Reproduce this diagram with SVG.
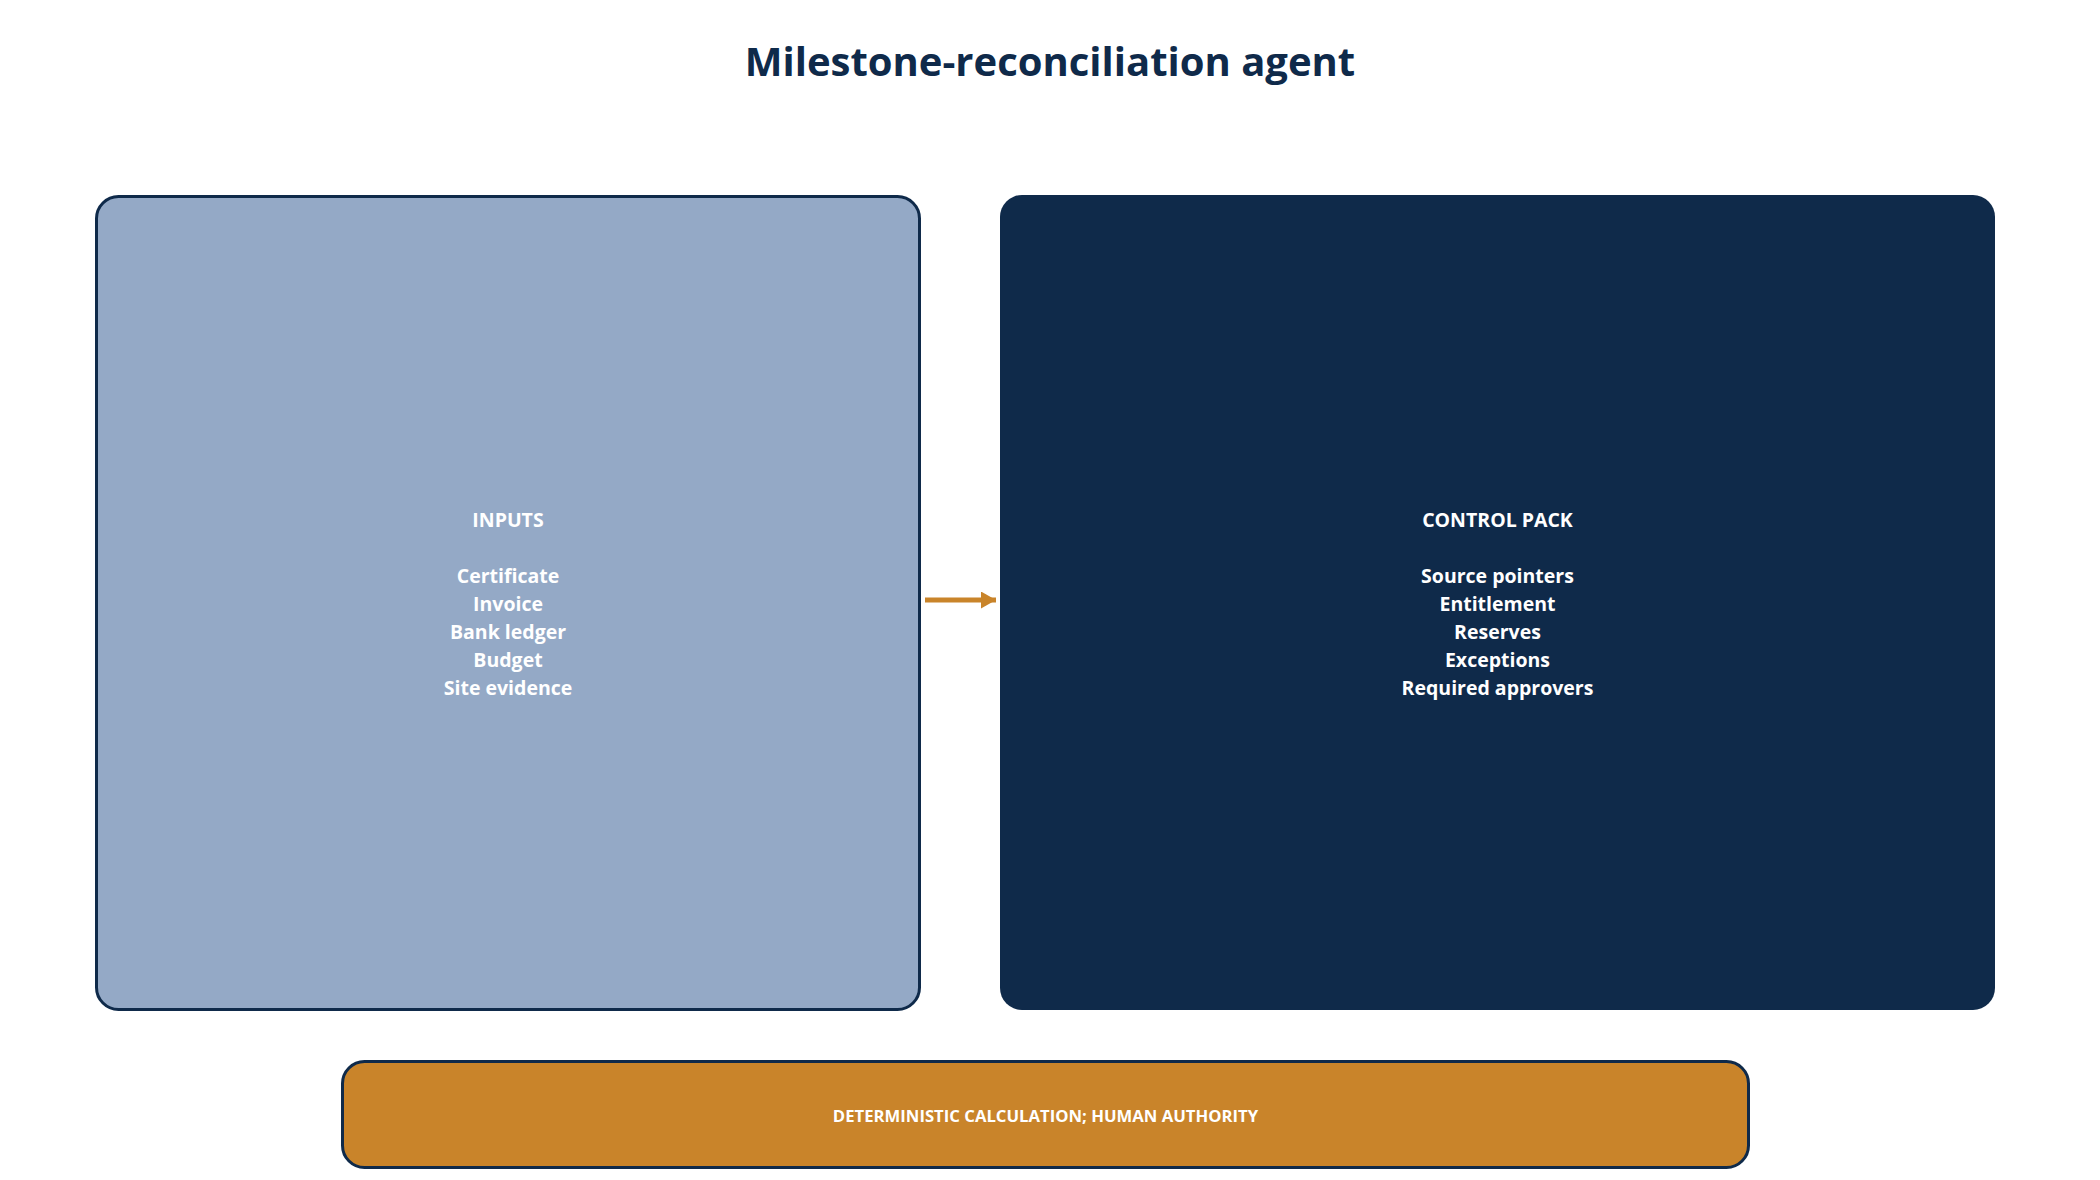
<svg xmlns="http://www.w3.org/2000/svg" width="2100" height="1180" viewBox="0 0 2100 1180">
<defs>
<style>
.t{font-family:"Open Sans","Noto Sans","Liberation Sans",sans-serif;font-weight:bold;text-anchor:middle;}
.title{font-size:40px;fill:#0f2a4a;}
.lbl{font-size:19.5px;fill:#ffffff;}
.foot{font-size:16.7px;fill:#ffffff;}
.edge{stroke:#c9842a;stroke-width:5;fill:none;}
</style>
<marker id="ah" markerWidth="15" markerHeight="17" refX="15" refY="8.5" orient="auto" markerUnits="userSpaceOnUse">
<path d="M0,0 L15,8.5 L0,17 Z" fill="#c9842a"/>
</marker>
</defs>
<rect width="2100" height="1180" fill="#ffffff"/>
<text class="t title" x="1050" y="76">Milestone-reconciliation agent</text>
<g id="inputs">
<rect x="96.5" y="196.5" width="823" height="813" rx="22" fill="#94a9c6" stroke="#0f2a4a" stroke-width="3"/>
<text class="t lbl" x="508" y="527">INPUTS</text>
<text class="t lbl" x="508" y="583">Certificate</text>
<text class="t lbl" x="508" y="611">Invoice</text>
<text class="t lbl" x="508" y="639">Bank ledger</text>
<text class="t lbl" x="508" y="667">Budget</text>
<text class="t lbl" x="508" y="695">Site evidence</text>
</g>
<g id="control-pack">
<rect x="1000" y="195" width="995" height="815" rx="22" fill="#0f2a4a"/>
<text class="t lbl" x="1497.5" y="527">CONTROL PACK</text>
<text class="t lbl" x="1497.5" y="583">Source pointers</text>
<text class="t lbl" x="1497.5" y="611">Entitlement</text>
<text class="t lbl" x="1497.5" y="639">Reserves</text>
<text class="t lbl" x="1497.5" y="667">Exceptions</text>
<text class="t lbl" x="1497.5" y="695">Required approvers</text>
</g>
<g id="footer">
<rect x="342.5" y="1061.5" width="1406" height="106" rx="22" fill="#c9842a" stroke="#0f2a4a" stroke-width="3"/>
<text class="t foot" x="1045.5" y="1122">DETERMINISTIC CALCULATION; HUMAN AUTHORITY</text>
</g>
<g id="connectors">
<line class="edge" x1="925" y1="600" x2="996" y2="600" marker-end="url(#ah)"/>
</g>
</svg>
